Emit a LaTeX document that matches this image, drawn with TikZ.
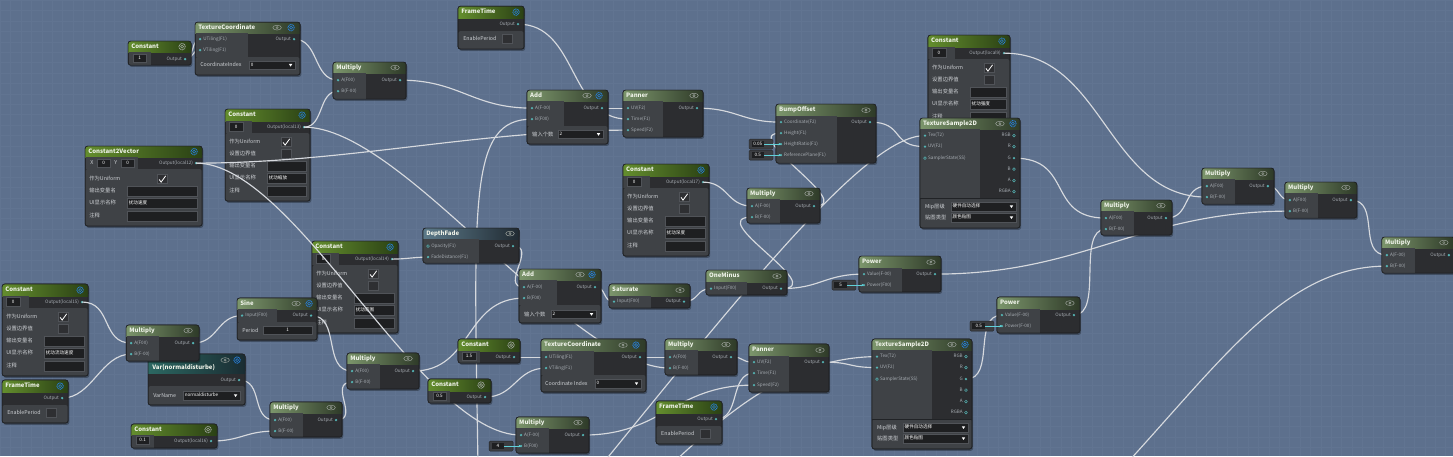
\documentclass[tikz,border=0pt]{standalone}
\usepackage{fontspec}
\setmainfont{Noto Sans CJK SC}
\usetikzlibrary{arrows.meta}
\pgfdeclarelayer{bgl}
\pgfdeclarelayer{low}
\pgfdeclarelayer{wires}
\pgfsetlayers{bgl,low,wires,main}
\definecolor{bgc}{RGB}{93,112,141}
\definecolor{gridc}{RGB}{97,116,145}
\definecolor{darkc}{RGB}{44,45,48}
\definecolor{midc}{RGB}{63,66,70}
\definecolor{bordc}{RGB}{33,35,38}
\definecolor{hmL}{RGB}{124,150,108}
\definecolor{hmR}{RGB}{46,58,40}
\definecolor{hcL}{RGB}{100,142,46}
\definecolor{hcR}{RGB}{42,64,20}
\definecolor{hdL}{RGB}{92,122,138}
\definecolor{hdR}{RGB}{32,42,50}
\definecolor{hvL}{RGB}{44,104,98}
\definecolor{hvR}{RGB}{26,44,50}
\definecolor{htc}{RGB}{238,242,232}
\definecolor{ptc}{RGB}{168,174,180}
\definecolor{ctc}{RGB}{205,208,212}
\definecolor{portc}{RGB}{84,178,178}
\definecolor{wirec}{RGB}{214,217,222}
\definecolor{fieldc}{RGB}{30,31,33}
\definecolor{fieldb}{RGB}{80,83,88}
\definecolor{chkc}{RGB}{46,47,50}
\definecolor{gearc}{RGB}{38,128,222}
\definecolor{eyec}{RGB}{160,166,160}
\definecolor{cyanc}{RGB}{96,208,216}
\definecolor{valc}{RGB}{60,62,66}
\tikzset{
 body/.style={draw=bordc,line width=0.7pt,fill=darkc,rounded corners=2.5pt,inner sep=0pt,outer sep=0pt},
 hM/.style={left color=hmL,right color=hmR},
 hC/.style={left color=hcL,right color=hcR},
 hD/.style={left color=hdL,right color=hdR},
 hV/.style={left color=hvL,right color=hvR},
 htext/.style={text=htc,font=\fontsize{6}{7}\selectfont\bfseries,inner sep=0pt,text height=4.4pt,text depth=1.2pt},
 ptext/.style={text=ptc,font=\fontsize{4.6}{5}\selectfont,inner sep=0pt,text height=3.4pt,text depth=0.9pt},
 ctext/.style={text=ctc,font=\fontsize{5.3}{6}\selectfont,inner sep=0pt,text height=4pt,text depth=1pt},
 ftext/.style={text=white,font=\fontsize{4.6}{5}\selectfont,inner sep=0pt,text height=3.4pt,text depth=0.9pt},
 wire/.style={draw=wirec,line width=1.15pt},
 cyanl/.style={draw=cyanc,line width=1pt,-{Stealth[length=2.4pt,width=2.6pt]}},
}
\newcommand\gFrame[8]{%
 \fill[black,opacity=0.3,rounded corners=2.5pt] ({#2+1.2},{#3+1.8}) rectangle ++(#4,#5);
 \node[body,anchor=north west,minimum width=#4pt,minimum height=#5pt] (#1) at ({#2},{#3}) {};
 \fill[#7,rounded corners=2.5pt] ({#2},{#3}) rectangle ++(#4,#6);
 \fill[#7] ({#2},{#3+#6-3}) rectangle ++(#4,3);
 \node[htext,anchor=west] (#1-t) at ({#2+3},{#3+#6/2}) {#8};
}
\newcommand\gBd[4]{\draw[bordc,line width=0.7pt,rounded corners=2.5pt] ({#1},{#2}) rectangle ++(#3,#4);}
\newcommand\gEye[2]{\draw[eyec,line width=0.45pt] ({#1},{#2}) ellipse (4.3pt and 2.4pt); \draw[eyec,line width=0.45pt] ({#1},{#2}) circle (1.1pt);}
\newcommand\gGear[3]{\draw[#3,line width=0.9pt,dash pattern=on 0.9pt off 0.7pt] ({#1},{#2}) circle (3.2pt); \draw[#3,line width=0.55pt] ({#1},{#2}) circle (1.5pt);}
\newcommand\gIn[4]{\coordinate (#1) at ({#2+5},{#3}); \fill[portc] (#1) circle (1.3pt); \node[ptext,anchor=west] (#1-l) at ({#2+8},{#3}) {#4};}
\newcommand\gInH[4]{\coordinate (#1) at ({#2+5},{#3}); \draw[portc,line width=0.5pt] (#1) circle (1.4pt); \node[ptext,anchor=west] (#1-l) at ({#2+8},{#3}) {#4};}
\newcommand\gOut[4]{\coordinate (#1) at ({#2-6},{#3}); \fill[portc] (#1) circle (1.3pt); \node[ptext,anchor=east] (#1-l) at ({#2-9},{#3}) {#4};}
\newcommand\gOutH[4]{\coordinate (#1) at ({#2-6},{#3}); \draw[portc,line width=0.5pt] (#1) circle (1.4pt); \node[ptext,anchor=east] (#1-l) at ({#2-9},{#3}) {#4};}
\newcommand\gFld[6]{\fill[fieldc] ({#2},{#3}) rectangle ({#4},{#5}); \draw[fieldb,line width=0.4pt] ({#2},{#3}) rectangle ({#4},{#5}); \node[ftext,anchor=west] (#1) at ({#2+1.5},{(#3+#5)/2}) {#6};}
\newcommand\gVFld[6]{\fill[fieldc] ({#2},{#3}) rectangle ({#4},{#5}); \draw[fieldb,line width=0.4pt] ({#2},{#3}) rectangle ({#4},{#5}); \node[ftext] (#1) at ({(#2+#4)/2},{(#3+#5)/2}) {#6};}
\newcommand\gDrp[6]{\gFld{#1}{#2}{#3}{#4}{#5}{#6}\fill[white] ({#4-6.2},{(#3+#5)/2-1.2}) -- ({#4-2.8},{(#3+#5)/2-1.2}) -- ({#4-4.5},{(#3+#5)/2+1.4}) -- cycle;}
\newcommand\gChk[3]{\fill[chkc] ({#1},{#2}) rectangle ++(10,9); \draw[fieldb,line width=0.4pt] ({#1},{#2}) rectangle ++(10,9); \ifnum#3=1 \draw[white,line width=0.8pt] ({#1+2},{#2+4.8}) -- ({#1+4},{#2+7.5}) -- ({#1+8.6},{#2+1.2}); \fi}
\newcommand\gUConst[7]{%
 \gFrame{#1}{#2}{#3}{#4}{92}{12}{hC}{Constant}
 \gGear{#2+#4-8}{#3+6}{gearc}
 \fill[midc] ({#2+0.4},{#3+12}) rectangle ({#2+27},{#3+24});
 \fill[midc,rounded corners=2pt] ({#2+0.4},{#3+24}) rectangle ({#2+#4-0.4},{#3+91.6});
 \gVFld{#1-v}{#2+4}{#3+13.5}{#2+18}{#3+22.5}{#7}
 \gOut{#1-o}{#2+#4}{#3+18}{#5}
 \node[ctext,anchor=west] (#1-c1) at ({#2+4},{#3+33}) {作为Uniform};
 \node[ctext,anchor=west] (#1-c2) at ({#2+4},{#3+45}) {设置边界值};
 \node[ctext,anchor=west] (#1-c3) at ({#2+4},{#3+57}) {输出变量名};
 \node[ctext,anchor=west] (#1-c4) at ({#2+4},{#3+69}) {UI显示名称};
 \node[ctext,anchor=west] (#1-c5) at ({#2+4},{#3+82}) {注释};
 \gChk{#2+56}{#3+28.5}{1}
 \gChk{#2+56}{#3+40.5}{0}
 \gFld{#1-f1}{#2+42}{#3+52}{#2+#4-4}{#3+62}{}
 \gFld{#1-f2}{#2+42}{#3+64}{#2+#4-4}{#3+74}{#6}
 \gFld{#1-f3}{#2+42}{#3+77}{#2+#4-4}{#3+87}{}
 \gBd{#2}{#3}{#4}{92}
}
\newcommand\gMult[7]{%
 \gFrame{#1}{#2}{#3}{#4}{#5}{11}{hM}{Multiply}
 \gEye{#2+#4-11}{#3+5.5}
 \fill[midc] ({#2+0.4},{#3+11}) rectangle ({#2+33},{#3+#5-0.4});
 \gIn{#1-a}{#2}{#3+18}{#6}
 \gIn{#1-b}{#2}{#3+29}{#7}
 \gOut{#1-o}{#2+#4}{#3+18}{Output}
 \gBd{#2}{#3}{#4}{#5}
}
\newcommand\gFT[3]{%
 \gFrame{#1}{#2}{#3}{66}{43}{12}{hC}{FrameTime}
 \gGear{#2+58}{#3+6}{gearc}
 \fill[midc,rounded corners=2pt] ({#2+0.4},{#3+25}) rectangle ({#2+65.6},{#3+42.6});
 \gOut{#1-o}{#2+66}{#3+18}{Output}
 \node[ctext,anchor=west] (#1-ep) at ({#2+5},{#3+33}) {EnablePeriod};
 \gChk{#2+44}{#3+28.5}{0}
 \gBd{#2}{#3}{66}{43}
}
\newcommand\gTS[3]{%
 \gFrame{#1}{#2}{#3}{100}{110}{11}{hM}{TextureSample2D}
 \gEye{#2+80}{#3+5.5}
 \gGear{#2+93}{#3+5.5}{gearc}
 \fill[midc] ({#2+0.4},{#3+11}) rectangle ({#2+60},{#3+80});
 \fill[midc,rounded corners=2pt] ({#2+0.4},{#3+80}) rectangle ({#2+99.6},{#3+109.6});
 \draw[bordc,line width=0.5pt] ({#2},{#3+80}) -- ({#2+100},{#3+80});
 \gIn{#1-tex}{#2}{#3+17.5}{Tex(T2)}
 \gIn{#1-uv}{#2}{#3+28.5}{UV(F2)}
 \gInH{#1-ss}{#2}{#3+40}{SamplerState(SS)}
 \gOutH{#1-rgb}{#2+100}{#3+17.5}{RGB}
 \gOutH{#1-r}{#2+100}{#3+28.5}{R}
 \gOut{#1-g}{#2+100}{#3+40}{G}
 \gOutH{#1-b}{#2+100}{#3+51}{B}
 \gOutH{#1-a}{#2+100}{#3+62.5}{A}
 \gOutH{#1-rgba}{#2+100}{#3+73.5}{RGBA}
 \node[ctext,anchor=west] (#1-mip) at ({#2+5},{#3+88.5}) {Mip层级};
 \gDrp{#1-d1}{#2+31}{#3+84}{#2+96}{#3+93}{硬件自动选择}
 \node[ctext,anchor=west] (#1-tt) at ({#2+5},{#3+99.5}) {贴图类型};
 \gDrp{#1-d2}{#2+31}{#3+95}{#2+96}{#3+104}{颜色贴图}
 \gBd{#2}{#3}{100}{110}
}
\newcommand\gVBox[4]{\fill[valc,rounded corners=1.2pt] ({#2},{#3-5}) rectangle ({#2+24},{#3+5}); \draw[bordc,line width=0.4pt,rounded corners=1.2pt] ({#2},{#3-5}) rectangle ({#2+24},{#3+5}); \fill[fieldc] ({#2+2.5},{#3-3.3}) rectangle ({#2+15},{#3+3.3}); \node[ftext,minimum width=12.5pt] (#1) at ({#2+8.75},{#3}) {#4};}
\newcommand\gW[3]{\draw[wire] (#1) .. controls +(#3,0) and +(-#3,0) .. (#2);}
\begin{document}
\begin{tikzpicture}[x=1pt,y=-1pt]
\begin{pgfonlayer}{bgl}
\fill[bgc] (0,0) rectangle (1453,456);
\draw[gridc,line width=0.3pt,step=10.4pt] (0,456) grid (1453,0);
\end{pgfonlayer}
\useasboundingbox (0,0) rectangle (1453,456);

% ---------- uniform constants (below wires)
\begin{pgfonlayer}{low}
\gUConst{c13}{225}{109}{85}{Output(local13)}{扰动缩放}{0}
\gUConst{c14}{312}{241}{86}{Output(local14)}{扰动范围}{0}
\gUConst{c15}{2}{284}{86}{Output(local15)}{扰动流动速度}{0}
\gUConst{c17}{623}{164}{86}{Output(local17)}{扰动深度}{0}
\gUConst{c9}{928}{35}{82}{Output(local9)}{扰动强度}{0}
\gFrame{c2v}{85}{146}{117}{80}{11}{hC}{Constant2Vector}
\gGear{194}{151.5}{gearc}
\fill[midc] (85.4,157) rectangle (138,169);
\fill[midc,rounded corners=2pt] (85.4,169) rectangle (201.6,225.6);
\node[ctext,anchor=west] (c2v-x) at (90,163) {X};
\gVFld{c2v-xv}{97}{159}{110}{167}{0}
\node[ctext,anchor=west] (c2v-y) at (114,163) {Y};
\gVFld{c2v-yv}{121}{159}{134}{167}{0}
\gOut{c2v-o}{202}{163}{Output(local12)}
\node[ctext,anchor=west] (c2v-c1) at (89,179) {作为Uniform};
\gChk{157}{174.5}{1}
\node[ctext,anchor=west] (c2v-c3) at (89,191) {输出变量名};
\gFld{c2v-f1}{127}{186.5}{197}{196}{}
\node[ctext,anchor=west] (c2v-c4) at (89,203) {UI显示名称};
\gFld{c2v-f2}{127}{198.5}{197}{208}{扰动速度}
\node[ctext,anchor=west] (c2v-c5) at (89,216) {注释};
\gFld{c2v-f3}{127}{211}{197}{221}{}
\gBd{85}{146}{117}{80}
\end{pgfonlayer}

% ---------- small constants
\gFrame{c1}{128}{41}{63}{24}{11}{hC}{Constant}
\gGear{182}{46.5}{eyec}
\fill[midc] (128.4,52) rectangle (151,64.6);
\gVFld{c1-v}{133}{54.5}{146}{62.5}{1}
\gOut{c1-o}{191}{59}{Output}
\gBd{128}{41}{63}{24}

\gFrame{c16}{131}{424}{86}{24}{11}{hC}{Constant}
\gGear{208}{429.5}{eyec}
\fill[midc] (131.4,435) rectangle (154,447.6);
\gVFld{c16-v}{136}{436.5}{149}{444.5}{0.1}
\gOut{c16-o}{217}{441}{Output(local16)}
\gBd{131}{424}{86}{24}

\gFrame{c15b}{458}{339}{62}{24}{12}{hC}{Constant}
\gGear{511}{345}{eyec}
\fill[midc] (458.4,351) rectangle (480,362.6);
\gVFld{c15b-v}{462}{352.5}{476}{360.5}{1.5}
\gOut{c15b-o}{520}{357}{Output}
\gBd{458}{339}{62}{24}

\gFrame{c05}{428}{379}{63}{24}{12}{hC}{Constant}
\gGear{481}{385}{eyec}
\fill[midc] (428.4,391) rectangle (450,402.6);
\gVFld{c05-v}{433}{392.5}{446}{400.5}{0.5}
\gOut{c05-o}{491}{397}{Output}
\gBd{428}{379}{63}{24}

% ---------- texture coordinates
\gFrame{tc1}{195}{22}{105}{53}{11}{hM}{TextureCoordinate}
\gEye{277}{27.5}
\gGear{291}{27.5}{gearc}
\fill[midc] (195.4,33) rectangle (248,57);
\fill[midc,rounded corners=2pt] (195.4,57) rectangle (299.6,74.6);
\gIn{tc1-u}{195}{39}{UTiling(F1)}
\gIn{tc1-v}{195}{50}{VTiling(F1)}
\gOut{tc1-o}{300}{39}{Output}
\node[ctext,anchor=west] (tc1-ci) at (200,65) {CoordinateIndex};
\gDrp{tc1-d}{249}{61}{295}{69}{0}
\gBd{195}{22}{105}{53}

\gFrame{tc2}{541}{339}{105}{53}{12}{hM}{TextureCoordinate}
\gEye{623}{345}
\gGear{636}{345}{gearc}
\fill[midc] (541.4,351) rectangle (594,375);
\fill[midc,rounded corners=2pt] (541.4,375) rectangle (645.6,391.6);
\gIn{tc2-u}{541}{357}{UTiling(F1)}
\gIn{tc2-v}{541}{368}{VTiling(F1)}
\gOut{tc2-o}{646}{357}{Output}
\node[ctext,anchor=west] (tc2-ci) at (545,383.5) {Coordinate Index};
\gDrp{tc2-d}{595}{379}{641}{388}{0}
\gBd{541}{339}{105}{53}

% ---------- multiplies
\gMult{m1}{333}{62}{73}{37}{A(F00)}{B(F-00)}
\gFrame{var}{148}{354}{97}{51}{19}{hV}{}
\node[htext,anchor=west] (var-t2) at (152,368) {Var(normaldisturbe)};
\gEye{225}{360}
\gGear{237}{360}{gearc}
\fill[midc,rounded corners=2pt] (148.4,386) rectangle (244.6,404.6);
\gOut{var-o}{245}{380}{Output}
\node[ctext,anchor=west] (var-vn) at (153,395.5) {VarName};
\gDrp{var-d}{183}{391}{240}{400}{normaldisturbe}
\gBd{148}{354}{97}{51}
\gMult{m8}{126}{325}{73}{36}{A(F00)}{B(F-00)}
\gMult{m12}{347}{353}{72}{36}{A(F00)}{B(F-00)}
\gMult{m13}{270}{402}{72}{35}{A(F00)}{B(F-00)}
\gMult{m20}{747}{188}{73}{35}{A(F-00)}{B(F-00)}
\gMult{m30}{665}{339}{72}{36}{A(F00)}{B(F-00)}
\gMult{m33}{516}{417}{73}{36}{A(F-00)}{B(F00)}
\gMult{m37}{1101}{200}{71}{35}{A(F00)}{B(F-00)}
\gMult{m38}{1202}{168}{72}{36}{A(F00)}{B(F-00)}
\gMult{m39}{1285}{182}{72}{36}{A(F00)}{B(F-00)}
\gMult{m40}{1382}{237}{73}{36}{A(F-00)}{B(F-00)}

% ---------- frame times
\gFT{ft1}{458}{6}
\gFT{ft3}{2}{380}
\gFT{ft2}{656}{401}

% ---------- sine
\gFrame{sine}{237}{298}{80}{42}{11}{hM}{Sine}
\gEye{296}{303.5}
\gGear{309}{303.5}{gearc}
\fill[midc] (237.4,309) rectangle (277,322);
\fill[midc,rounded corners=2pt] (237.4,322) rectangle (316.6,339.6);
\gIn{sine-i}{237}{315.5}{Input(F00)}
\gOut{sine-o}{317}{315.5}{Output}
\node[ctext,anchor=west] (sine-pl) at (242,330.5) {Period};
\gVFld{sine-pf}{263}{326.5}{312}{334.5}{1}
\gBd{237}{298}{80}{42}

% ---------- adds
\gFrame{add1}{527}{90}{81}{54}{11}{hM}{Add}
\gEye{587}{95.5}
\gGear{599}{95.5}{gearc}
\fill[midc] (527.4,101) rectangle (564,126);
\fill[midc,rounded corners=2pt] (527.4,126) rectangle (607.6,143.6);
\gIn{add1-a}{527}{108}{A(F-00)}
\gIn{add1-b}{527}{119}{B(F00)}
\gOut{add1-o}{608}{108}{Output}
\node[ctext,anchor=west] (add1-n) at (532,134.5) {输入个数};
\gDrp{add1-d}{558}{130}{603}{138.5}{2}
\gBd{527}{90}{81}{54}

\gFrame{add2}{519}{269}{82}{54}{11}{hM}{Add}
\gEye{580}{274.5}
\gGear{592}{274.5}{gearc}
\fill[midc] (519.4,280) rectangle (557,305);
\fill[midc,rounded corners=2pt] (519.4,305) rectangle (600.6,322.6);
\gIn{add2-a}{519}{287}{A(F-00)}
\gIn{add2-b}{519}{298}{B(F00)}
\gOut{add2-o}{601}{287}{Output}
\node[ctext,anchor=west] (add2-n) at (524,314.5) {输入个数};
\gDrp{add2-d}{551}{310}{596}{318.5}{2}
\gBd{519}{269}{82}{54}

% ---------- panners
\gFrame{p1}{623}{90}{80}{47}{11}{hM}{Panner}
\gEye{694}{95.5}
\fill[midc] (623.4,101) rectangle (663,136.6);
\gIn{p1-uv}{623}{108}{UV(F2)}
\gIn{p1-t}{623}{119}{Time(F1)}
\gIn{p1-s}{623}{130}{Speed(F2)}
\gOut{p1-o}{703}{108}{Output}
\gBd{623}{90}{80}{47}

\gFrame{p2}{749}{344}{80}{48}{12}{hM}{Panner}
\gEye{820}{350}
\fill[midc] (749.4,356) rectangle (789,391.6);
\gIn{p2-uv}{749}{362}{UV(F2)}
\gIn{p2-t}{749}{373}{Time(F1)}
\gIn{p2-s}{749}{385}{Speed(F2)}
\gOut{p2-o}{829}{362}{Output}
\gBd{749}{344}{80}{48}

% ---------- bump offset
\gFrame{bo}{776}{104}{100}{59}{12}{hM}{BumpOffset}
\gEye{866}{110}
\fill[midc] (776.4,116) rectangle (837,162.6);
\gIn{bo-c}{776}{122}{Coordinate(F2)}
\gIn{bo-h}{776}{133}{Height(F1)}
\gIn{bo-hr}{776}{144}{HeightRatio(F1)}
\gIn{bo-rp}{776}{155}{ReferencePlane(F1)}
\gOut{bo-o}{876}{122}{Output}
\gBd{776}{104}{100}{59}
\gVBox{bo-hrv}{749}{144}{0.05}
\gVBox{bo-rpv}{749}{155}{0.5}

% ---------- texture samples
\gTS{ts1}{920}{118}
\gTS{ts2}{872}{339}

% ---------- depth fade, saturate, one minus
\gFrame{df}{423}{228}{96}{35}{11}{hD}{DepthFade}
\gEye{510}{233.5}
\fill[midc] (423.4,239) rectangle (479,262.6);
\gInH{df-op}{423}{246}{Opacity(F1)}
\gIn{df-fd}{423}{257}{FadeDistance(F1)}
\gOut{df-o}{519}{246}{Output}
\gBd{423}{228}{96}{35}

\gFrame{sat}{609}{284}{81}{24}{12}{hM}{Saturate}
\gEye{680}{290}
\fill[midc] (609.4,296) rectangle (651,307.6);
\gIn{sat-i}{609}{301.5}{Input(F00)}
\gOut{sat-o}{690}{301.5}{Output}
\gBd{609}{284}{81}{24}

\gFrame{om}{706}{270}{81}{25}{12}{hM}{OneMinus}
\gEye{777}{276}
\fill[midc] (706.4,282) rectangle (747,294.6);
\gIn{om-i}{706}{288.5}{Input(F00)}
\gOut{om-o}{787}{288.5}{Output}
\gBd{706}{270}{81}{25}

% ---------- powers
\gFrame{pw1}{859}{256}{82}{36}{12}{hM}{Power}
\gEye{931}{262}
\fill[midc] (859.4,268) rectangle (902,291.6);
\gIn{pw1-v}{859}{274}{Value(F-00)}
\gIn{pw1-p}{859}{285}{Power(F00)}
\gOut{pw1-o}{941}{274}{Output}
\gBd{859}{256}{82}{36}
\gVBox{pw1-pv}{832}{285}{5}

\gFrame{pw2}{997}{297}{83}{36}{12}{hM}{Power}
\gEye{1070}{303}
\fill[midc] (997.4,309) rectangle (1040,332.6);
\gIn{pw2-v}{997}{315}{Value(F-00)}
\gIn{pw2-p}{997}{326}{Power(F-00)}
\gOut{pw2-o}{1080}{315}{Output}
\gBd{997}{297}{83}{36}
\gVBox{pw2-pv}{970}{326}{0.5}

\gVBox{m33-bv}{489}{446}{4}

% ---------- value connectors
\draw[cyanl] (bo-hrv.east) -- (bo-hr);
\draw[cyanl] (bo-rpv.east) -- (bo-rp);
\draw[cyanl] (pw1-pv.east) -- (pw1-p);
\draw[cyanl] (pw2-pv.east) -- (pw2-p);
\draw[cyanl] (m33-bv.east) -- (m33-b);

% ---------- wires
\begin{pgfonlayer}{wires}
\gW{c1-o}{tc1-u}{9}
\gW{c1-o}{tc1-v}{9}
\gW{tc1-o}{m1-a}{25}
\gW{c13-o}{m1-b}{20}
\gW{m1-o}{add1-a}{60}
\gW{ft1-o}{p1-t}{60}
\gW{add1-o}{p1-uv}{15}
\gW{c2v-o}{p1-s}{150}
\gW{c13-o}{m30-b}{100}
\gW{c2v-o}{m33-a}{100}
\gW{c14-o}{df-fd}{15}
\gW{df-o}{add2-a}{25}
\gW{m12-o}{add2-b}{60}
\gW{add2-o}{sat-i}{12}
\gW{sat-o}{om-i}{15}
\gW{om-o}{pw1-v}{40}
\gW{om-o}{m20-b}{50}
\gW{c17-o}{m20-a}{25}
\gW{m20-o}{bo-h}{45}
\gW{p1-o}{bo-c}{40}
\gW{bo-o}{ts1-uv}{35}
\gW{ts1-g}{m37-a}{60}
\gW{c9-o}{m38-b}{100}
\gW{m37-o}{m38-a}{25}
\gW{m38-o}{m39-a}{12}
\gW{pw2-o}{m37-b}{30}
\gW{pw1-o}{m39-b}{150}
\gW{m39-o}{m40-a}{30}
\gW{ts2-g}{pw2-v}{30}
\gW{c15-o}{m8-a}{30}
\gW{ft3-o}{m8-b}{30}
\gW{m8-o}{sine-i}{25}
\gW{var-o}{m13-a}{25}
\gW{c16-o}{m13-b}{30}
\gW{m13-o}{m12-b}{25}
\gW{sine-o}{m12-a}{30}
\gW{c15b-o}{tc2-u}{15}
\gW{c05-o}{tc2-v}{30}
\gW{tc2-o}{m30-a}{15}
\gW{m30-o}{p2-uv}{15}
\gW{ft2-o}{p2-t}{25}
\gW{m33-o}{p2-s}{80}
\gW{p2-o}{ts2-uv}{30}
\coordinate (offa) at (478,470);
\coordinate (offb) at (604,462);
\coordinate (offc) at (674,462);
\coordinate (offd) at (1128,462);
\draw[wire] (offa) .. controls (474,200) and (468,119) .. (add1-b);
\draw[wire] (offb) .. controls (760,270) and (870,135) .. (ts1-tex);
\draw[wire] (offc) .. controls (740,400) and (800,357) .. (ts2-tex);
\draw[wire] (offd) .. controls (1230,350) and (1290,266) .. (m40-b);
\end{pgfonlayer}
\end{tikzpicture}
\end{document}
